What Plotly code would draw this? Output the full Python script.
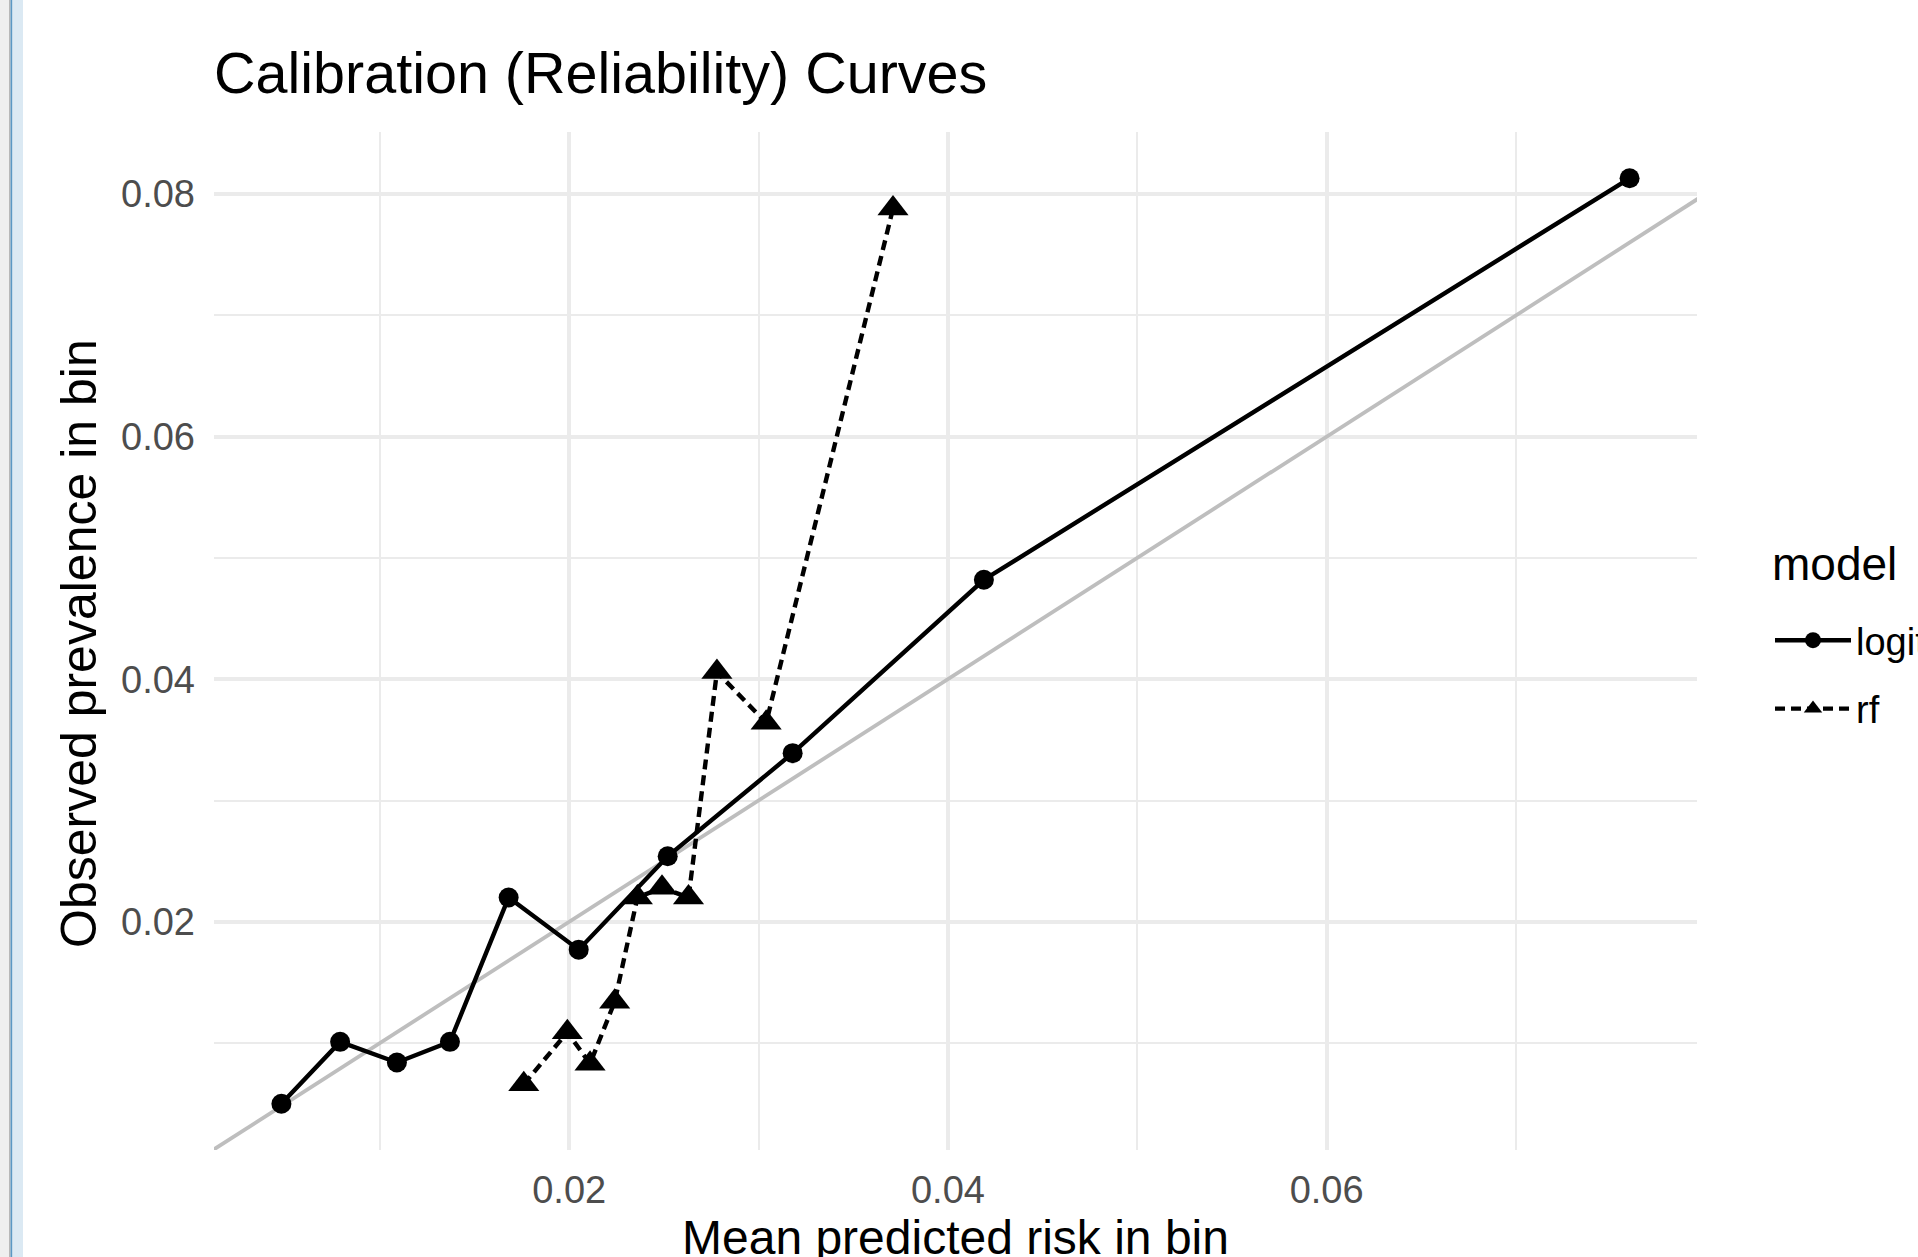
import plotly.graph_objects as go

# ---- data ----
logit_x = [0.0048, 0.0079, 0.0109, 0.0137, 0.0168, 0.0205, 0.0252, 0.0318, 0.0419, 0.0760]
logit_y = [0.0050, 0.0101, 0.0084, 0.0101, 0.0220, 0.0177, 0.0254, 0.0339, 0.0482, 0.0813]
rf_x = [0.0176, 0.0199, 0.0211, 0.0224, 0.0236, 0.0249, 0.0263, 0.0278, 0.0304, 0.0371]
rf_y = [0.0066, 0.0109, 0.0083, 0.0134, 0.0220, 0.0228, 0.0220, 0.0406, 0.0364, 0.0788]
x_ticks = [0.02, 0.04, 0.06]
y_ticks = [0.02, 0.04, 0.06, 0.08]
legend_title = "model"
x_title = "Mean predicted risk in bin"
y_title = "Observed prevalence in bin"

W, H = 1918, 1257
ML, MR, MT, MB = 214, 221, 132, 107
FONT = "Liberation Sans, Arial, Helvetica, sans-serif"


def expand(vals, mult=0.05):
    lo, hi = min(vals), max(vals)
    span = hi - lo
    return [lo - mult * span, hi + mult * span]


xr = expand(logit_x + rf_x)
yr = expand(logit_y + rf_y)

fig = go.Figure()

# identity reference line (clipped by the axes like ggplot's abline)
fig.add_trace(go.Scatter(
    x=[0, 0.1], y=[0, 0.1], mode="lines",
    line=dict(color="#BEBEBE", width=3.8),
    showlegend=False, hoverinfo="skip",
))

fig.add_trace(go.Scatter(
    x=logit_x, y=logit_y, mode="lines+markers", name="logit",
    legendgroup="logit",
    line=dict(color="black", width=4.4),
    marker=dict(symbol="circle", size=20, color="black"),
))
fig.add_trace(go.Scatter(
    x=rf_x, y=rf_y, mode="lines+markers", name="rf",
    legendgroup="rf",
    line=dict(color="black", width=4.4, dash="10px,6px"),
    marker=dict(symbol="triangle-up", size=27, color="black"),
))


def px_x(p):
    return (p - ML) / (W - ML - MR)


def px_y(p):
    return 1 - (p - MT) / (H - MT - MB)


# window frame at the left edge (decoration)
frame = [
    (0, 9, "#efefef"),
    (9, 10.5, "#b8b8b8"),
    (10.5, 12.5, "#5b98c4"),
    (12.5, 23, "#dbe9f3"),
]
shapes = []
for a, b, c in frame:
    shapes.append(dict(type="rect", xref="paper", yref="paper",
                       x0=px_x(a), x1=px_x(b), y0=-1, y1=2,
                       fillcolor=c, line=dict(width=0), layer="above"))

grid_major = "#EBEBEB"
fig.update_layout(
    width=W, height=H,
    margin=dict(l=ML, r=MR, t=MT, b=MB, autoexpand=False),
    paper_bgcolor="white", plot_bgcolor="white",
    font=dict(family=FONT, color="black"),
    title=dict(text="Calibration (Reliability) Curves",
               font=dict(size=57.5, color="black", family=FONT),
               xref="container", x=214 / W, xanchor="left",
               yref="container", y=1 - 73 / H, yanchor="middle"),
    xaxis=dict(range=xr, tickvals=x_ticks, ticktext=[f"{v:.2f}" for v in x_ticks],
               showgrid=True, gridcolor=grid_major, gridwidth=3.5,
               minor=dict(dtick=0.01, tick0=0, showgrid=True, gridcolor=grid_major, gridwidth=2),
               zeroline=False, showline=False, ticks="",
               tickfont=dict(size=38, color="#4D4D4D", family=FONT),
               ticklabelstandoff=14,
               automargin=False),
    yaxis=dict(range=yr, tickvals=y_ticks, ticktext=[f"{v:.2f}" for v in y_ticks],
               showgrid=True, gridcolor=grid_major, gridwidth=3.5,
               minor=dict(dtick=0.01, tick0=0, showgrid=True, gridcolor=grid_major, gridwidth=2),
               zeroline=False, showline=False, ticks="",
               tickfont=dict(size=38, color="#4D4D4D", family=FONT),
               ticklabelstandoff=18,
               automargin=False),
    legend=dict(xref="container", yref="container",
                x=1770 / W, xanchor="left", y=1 - 609 / H, yanchor="top",
                font=dict(size=38, color="black"),
                itemwidth=76, tracegroupgap=16,
                bgcolor="rgba(0,0,0,0)"),
    annotations=[
        dict(text=legend_title, xref="paper", yref="paper",
             x=px_x(1770), xanchor="left", y=px_y(564), yanchor="middle",
             showarrow=False, font=dict(size=46, color="black", family=FONT)),
        dict(text=x_title, xref="paper", yref="paper",
             x=px_x(955), xanchor="center", y=px_y(1237), yanchor="middle",
             showarrow=False, font=dict(size=48, color="black", family=FONT)),
        dict(text=y_title, xref="paper", yref="paper", textangle=-90,
             x=px_x(79), xanchor="center", y=px_y(644), yanchor="middle",
             showarrow=False, font=dict(size=50, color="black", family=FONT)),
    ],
    shapes=shapes,
    showlegend=True,
)

fig.write_html("out.html", config={"displayModeBar": False},
               post_script="document.body.style.margin='0px';document.body.style.overflow='hidden';")
